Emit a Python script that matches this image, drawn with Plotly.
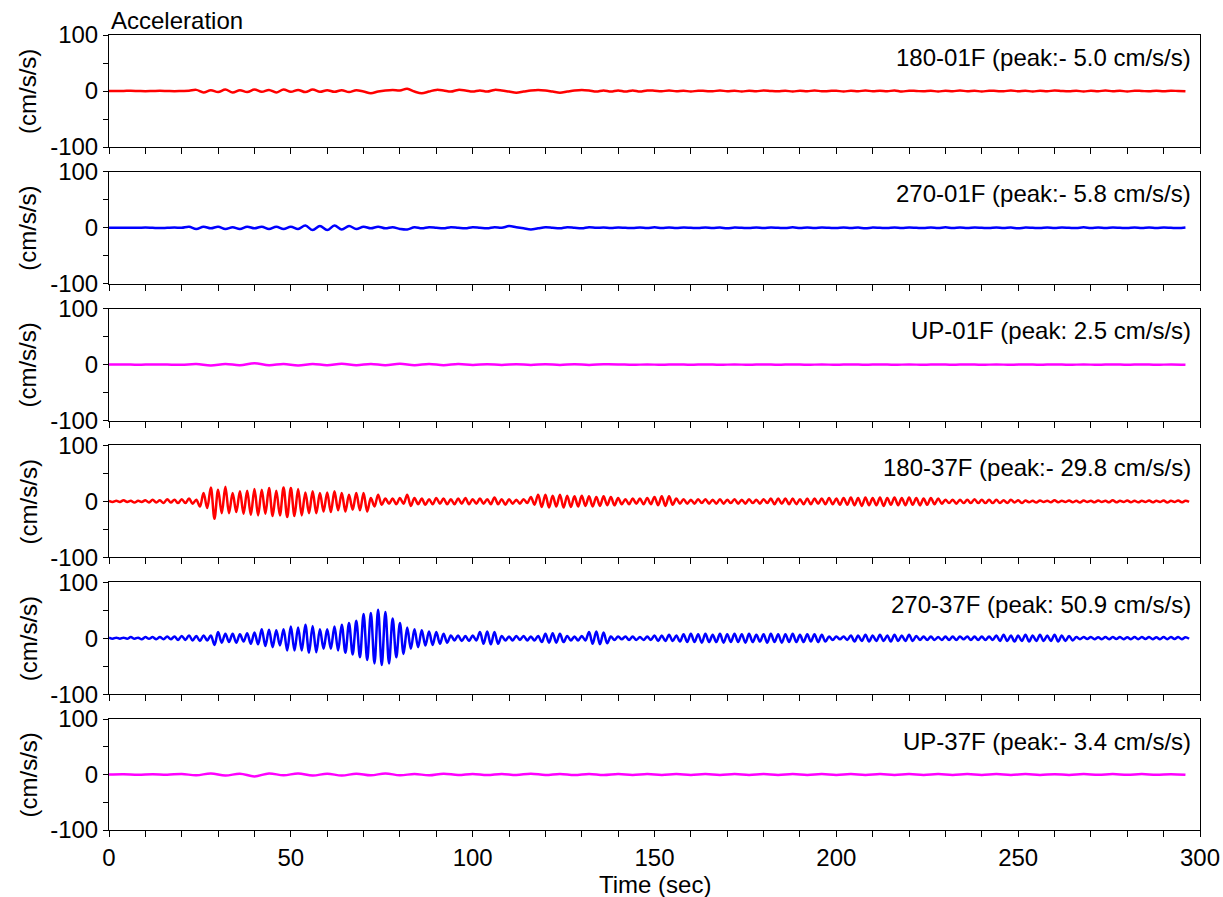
import numpy as np
import plotly.graph_objects as go

# ---------------- data ----------------
time_range = [0, 300]
x_tick_step = 10
x_label_step = 50
y_ticks = [-100, -50, 0, 50, 100]
y_tick_text = ["-100", "", "0", "", "100"]

channel_labels = [
    "180-01F (peak:- 5.0 cm/s/s)",
    "270-01F (peak:- 5.8 cm/s/s)",
    "UP-01F (peak: 2.5 cm/s/s)",
    "180-37F (peak:- 29.8 cm/s/s)",
    "270-37F (peak: 50.9 cm/s/s)",
    "UP-37F (peak:- 3.4 cm/s/s)",
]

# sampling interval (s) of the digitised extrema for each channel
sample_dt = [2.0, 2.0, 4.0, 1.0, 1.0, 4.0]

acc_180_01F = [
    0, 0, 0, 0.5, 0, -0.5, 0, 0.5, 0, -0.5, 0, 0.5,
    2, -2.5, 1.5, -2, 2.5, -2.5, 1.5, -2, 2.5, -1.5, 2, -2.5, 2.5, -1.5, 2, -2, 2.5, -1.5, 1.5,
    -1.5, 1.5, -2, 1.5, -1, -4, -1, 1, 2, 1, 4, -1, -4, -1, 2, 1, -1, 2, 1, -1,
    1, -1, 2, 1, -1, -3, -1, 1, 2, 1, -1, -3, -1, 1, 2, 1, -1, 1, -1, 1, -1, 1, -1, 1,
    0.5, -0.5, 1, -0.5, 0.5, -1, 0.5, 0, -0.5, 1,
    -0.5, 0.5, -1, 0.5, -0.5, 1, 0, -0.5, 0.5, -1,
    0.5, -0.5, 1, -0.5, 0, 0.5, -1, 0.5, -0.5, 1,
    -0.5, 0.5, -0.5, 1, -1, 0.5, 0, -0.5, 0.5, -1,
    0.5, -0.5, 1, -0.5, 0.5, -1, 0.5, 0, -0.5, 1,
    -0.5, 0.5, -1, 0.5, -0.5, 1, 0, -0.5, 0.5, -1,
    0.5, -0.5, 1, -0.5, 0.5, -1, 0.5, 0, -0.5, 0.5,
    -0.5, 0.5, 0, -0.5,
]

acc_270_01F = [
    0, 0, 0, 0, 0, 0.5, 0, -0.5, 0, 0.5, 0,
    2, -2, 2, -1, 2, -2, 1, -2, 2, -1, 2, -2, 2, -2, 2, -2,
    4, -4, 3, -4, 4, -3, 3,
    -2, 2, -1, 2, -1, 1, -2, -3,
    1, -1, 1, 0, -1, 1, 0, -1, 1, 0, -1, 1, 0,
    3, 1, -1, -3, -1, 1, 0, -1, 1, 0, -1, 1, 0,
    0.5, -0.5, 0.5, 0, -0.5, 0.5, -0.5, 1, -0.5, 0.5,
    -0.5, 0.5, 0, -0.5, 0.5, -0.5, 0.5, -1, 0.5, 0,
    -0.5, 0.5, -0.5, 0.5, 0, -0.5, 1, -0.5, 0.5, -0.5,
    0.5, 0, -0.5, 0.5, -0.5, 0.5, -1, 0.5, 0, -0.5,
    0.5, -0.5, 0.5, 0, -0.5, 0.5, -0.5, 1, -0.5, 0.5,
    -0.5, 0.5, 0, -0.5, 0.5, -0.5, 0.5, -1, 0.5, 0,
    -0.5, 0.5, -0.5, 0.5, 0, -0.5, 1, -0.5, 0.5, -0.5,
    0.5, 0, -0.5, 0.5, -0.5, 0.5, -0.5, 0.5, 0, -0.5,
    0.5,
]

acc_UP_01F = [
    0, 0.3, -0.3, 0.3, 0, -0.3,
    1, -1.5, 1, -1, 2.5, -1, 1, -1.5, 1, -1, 1.5, -1, 1, -1, 1.5, -1, 1, -1, 1,
    -0.5, 0.5, -0.5, 0.5, -0.5, 0.5, -0.5, 0.5, -0.5, 0.5,
    0.4, -0.4, 0.3, -0.4, 0.4, -0.3, 0.4, -0.4, 0.3, -0.4,
    0.4, -0.3, 0.4, -0.4, 0.3, -0.4, 0.4, -0.3, 0.4, -0.4,
    0.3, -0.4, 0.4, -0.3, 0.4, -0.4, 0.3, -0.4, 0.4, -0.3,
    0.4, -0.4, 0.3, -0.4, 0.4, -0.3, 0.4, -0.4, 0.3, -0.2,
]

acc_180_37F = [
    1, -1, 1, -1, 2, -1, 1, -2, 1, -1,
    2, -2, 3, -2, 2, -3, 4, -2, 3, -3,
    4, -3, 5, -4, 3,
    -9, 15, -12, 25, -31,
    21, -21, 26, -21, 15, -19, 18, -22, 19, -24,
    22, -25, 21, -22, 24, -26, 19, -25, 25, -28,
    24, -26, 22, -25, 16, -21, 18, -21, 15, -18,
    16, -19, 18, -16, 15, -18, 12, -15, 15, -16,
    15, -18, 6, -9, 12, -6, 5, -4, 5, -5,
    6, -4, 12, -8, 6, -5, 5, -6, 4, -5,
    6, -4, 5, -5, 4, -5, 5, -4, 6, -5,
    4, -4, 5, -4, 4, -5, 7, -5, 4, -6,
    4, -4, 3, -4, 4, -3,
    8, -6, 12, -10, 12, -11, 10, -9, 12, -11,
    10, -10, 9, -9, 10, -8, 9, -9, 8, -8,
    9, -7, 8, -7, 6,
    -5, 4, -5, 5, -4, 5, -5, 6, -5,
    8, -7, 9, -8, 9, -6, 5,
    -4, 4, -4, 3, -4, 4, -3, 4, -4, 3, -4, 4, -4, 3, -3, 4, -4, 3, -4, 4, -3, 3, -4, 4, -3,
    5, -5, 5, -4, 5, -5, 5, -5, 4, -5, 5, -5, 5, -4, 5, -5, 6, -5, 5, -6, 6, -6,
    7, -7, 6, -8, 7, -7, 6, -7, 7, -8, 6, -6, 7, -7, 6, -7, 7, -6, 6, -7, 5, -6, 6, -5, 5,
    -4, 3, -3, 3, -4, 3, -3, 3, -3, 4, -3, 3, -3, 3, -3, 3, -3, 2, -3, 3, -2, 2, -3,
    1.5, -1.5, 1, -2, 1.5, -1, 1, -1.5, 2, -1.5,
    1, -1, 1.5, -1.5, 1, -2, 1.5, -1, 1, -1.5,
    1.5, -1, 1, -1.5, 2, -1.5, 1, -1, 1.5, -1.5,
    1, -1.5, 1, -1, 1.5, -1.5, 1, -1, 1.5, -2,
    1, -1, 1.5, -1.5, 1, -1,
]

acc_270_37F = [
    1, -1, 1, -1, 1, -1, 2, -1, 1, -2,
    2, -1, 2, -2, 2, -2, 3, -2, 3, -3,
    4, -3, 5, -4, 4, -5, 5, -4, 5,
    -12, 11, -8, 8, -7, 8, -8, 7, -6, 9, -10, 10, -11,
    16, -14, 15, -16, 14, -13, 16, -22, 21, -22,
    19, -22, 24, -26, 22, -25, 16, -19, 16, -19,
    21, -22, 24, -26, 27, -29, 31, -34, 43, -39,
    45, -45, 51, -48, 47, -45, 35, -34, 27, -28,
    19, -19, 16, -16, 14, -13, 12, -12, 11, -10, 8, -8,
    5, -4, 5, -5, 4, -5, 5, -4,
    11, -10, 12, -11, 11, -10,
    4, -4, 3, -4, 4, -3, 4, -4, 3, -4, 4,
    -7, 8, -8, 9, -8, 8, -7,
    4, -4, 3, -4, 4, -4,
    11, -10, 12, -11, 10, -9,
    3, -3, 3, -2, 3, -3, 3, -3, 2, -3, 3, -3,
    5, -5, 5, -5, 6, -5, 5,
    -6, 7, -7, 8, -7, 7, -8, 8, -7, 6, -7, 8, -8, 7, -7, 8, -7, 7, -8, 8,
    -7, 6, -6, 7, -8, 8, -7, 7, -8, 7, -7, 8, -7, 6, -7, 7, -6, 7, -7, 6, -6,
    3, -3, 3, -2, 3, -3,
    5, -6, 5, -5, 6, -6, 5, -5, 6, -5, 5, -6, 6, -5, 5, -5, 6, -5, 4,
    -3, 3, -3, 3, -3, 2, -3, 3, -3, 3, -3, 3, -2, 3, -3, 3, -3, 3, -3, 3, -3,
    5, -5, 6, -5, 5, -6, 5, -5, 6, -6, 5, -5, 6, -5, 5, -5, 6, -6, 5, -5, 4, -4,
    2, -2, 2, -1.5, 2, -2, 1.5, -2, 2, -2, 2, -1.5, 2, -2, 1.5, -2,
    2, -2, 2, -1.5, 2, -2, 1.5, -2, 2, -2, 2, -1.5, 2, -2, 1.5, -1,
]

acc_UP_37F = [
    0, 0.5, -0.5, 0.5, -0.5, 1,
    -1.5, 2, -2, 1.5, -3.4, 2, -1.5, 2, -2, 1.5, -2, 1.5, -1.5, 2, -1.5, 1, -1.5, 1.5, -1,
    1, -1, 1, -1, 1.5, -1, 1, -1, 1, -1,
    0.8, -0.8, 1, -0.7, 0.8, -0.8, 0.7, -1, 0.8, -0.7,
    0.8, -0.8, 1, -0.7, 0.8, -0.8, 0.7, -1, 0.8, -0.7,
    0.8, -0.8, 0.7, -0.8, 0.8, -0.7, 0.8, -0.8, 0.7, -0.8,
    0.6, -0.7, 0.8, -0.6, 0.7, -0.6, 0.7, -0.6, 0.6, -0.5,
]

series = [acc_180_01F, acc_270_01F, acc_UP_01F, acc_180_37F, acc_270_37F, acc_UP_37F]
line_colors = ["#ff0000", "#0000ff", "#ff00ff", "#ff0000", "#0000ff", "#ff00ff"]

# ---------------- layout geometry ----------------
W, H = 1223, 897
m_l, m_r, m_t, m_b = 109, 23, 35, 67
plot_w = W - m_l - m_r
plot_h = H - m_t - m_b
pitch_px = 136.8
panel_px = 112.0
FONT = "Liberation Sans, Arial, sans-serif"
FS = 24

fig = go.Figure()
layout = dict(
    width=W, height=H,
    margin=dict(l=m_l, r=m_r, t=m_t, b=m_b, pad=0, autoexpand=False),
    paper_bgcolor="white", plot_bgcolor="white",
    showlegend=False,
    font=dict(family=FONT, size=FS, color="black"),
)

x_tickvals = list(range(time_range[0], time_range[1] + 1, x_tick_step))
x_ticktext = [str(v) if v % x_label_step == 0 else "" for v in x_tickvals]

annotations = []
n = len(series)
for i, vals in enumerate(series):
    k = "" if i == 0 else str(i + 1)
    t = np.arange(len(vals)) * sample_dt[i]
    fig.add_trace(go.Scatter(
        x=t, y=vals, mode="lines",
        line=dict(color=line_colors[i], width=2.5, shape="spline", smoothing=1),
        xaxis="x" + k, yaxis="y" + k, hoverinfo="skip",
    ))
    y1 = 1 - i * pitch_px / plot_h
    y0 = max(0, y1 - panel_px / plot_h)
    layout["xaxis" + k] = dict(
        domain=[0, 1], anchor="y" + k, range=time_range, automargin=False,
        tickmode="array", tickvals=x_tickvals, ticktext=x_ticktext,
        showticklabels=(i == n - 1),
        ticks="outside", ticklen=6, tickwidth=1, tickcolor="black",
        showline=True, linecolor="black", linewidth=1, mirror=True,
        showgrid=False, zeroline=False,
        tickfont=dict(family=FONT, size=FS, color="black"),
    )
    layout["yaxis" + k] = dict(
        domain=[y0, y1], anchor="x" + k, range=[-100, 100], automargin=False,
        tickmode="array", tickvals=y_ticks, ticktext=y_tick_text,
        ticks="outside", ticklen=5, tickwidth=1, tickcolor="black",
        showline=True, linecolor="black", linewidth=1, mirror=True,
        showgrid=False, zeroline=False,
        tickfont=dict(family=FONT, size=FS, color="black"),
    )
    annotations.append(dict(
        text=channel_labels[i], xref="paper", yref="paper",
        x=(1193 - m_l) / plot_w, y=y1 - 22 / plot_h,
        xanchor="right", yanchor="middle", showarrow=False,
        font=dict(family=FONT, size=FS, color="black"),
    ))
    annotations.append(dict(
        text="(cm/s/s)", xref="paper", yref="paper",
        x=(28 - m_l) / plot_w, y=(y0 + y1) / 2,
        xanchor="center", yanchor="middle", textangle=-90, showarrow=False,
        font=dict(family=FONT, size=FS, color="black"),
    ))

annotations.append(dict(
    text="Acceleration", xref="paper", yref="paper",
    x=0, y=(H - m_b - 20) / plot_h, xanchor="left", yanchor="middle",
    showarrow=False, font=dict(family=FONT, size=FS, color="black"),
))
annotations.append(dict(
    text="Time (sec)", xref="paper", yref="paper",
    x=(655 - m_l) / plot_w, y=(H - m_b - 884) / plot_h, xanchor="center", yanchor="middle",
    showarrow=False, font=dict(family=FONT, size=FS, color="black"),
))
layout["annotations"] = annotations

fig.update_layout(**layout)
fig.write_html("out.html")
